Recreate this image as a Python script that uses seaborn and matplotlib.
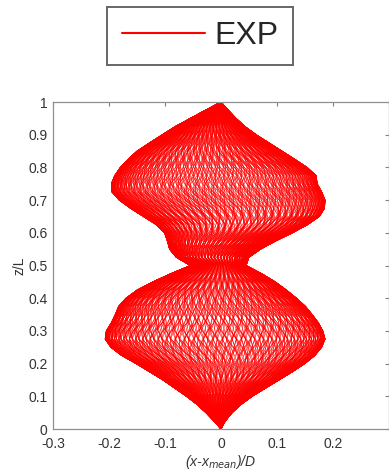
import numpy as np
import pandas as pd
import matplotlib
matplotlib.use("Agg")
import matplotlib.pyplot as plt
from matplotlib.lines import Line2D
import seaborn as sns

# ---- data ----
z_levels = [0.000, 0.025, 0.050, 0.075, 0.100, 0.125, 0.150, 0.175, 0.200, 0.225,
            0.250, 0.275, 0.300, 0.325, 0.350, 0.375, 0.400, 0.425, 0.450, 0.475,
            0.500, 0.525, 0.550, 0.575, 0.600, 0.625, 0.650, 0.675, 0.700, 0.725,
            0.750, 0.775, 0.800, 0.825, 0.850, 0.875, 0.900, 0.925, 0.950, 0.975, 1.000]
# left (minimum) envelope of (x-x_mean)/D
left_edge = [0.000, -0.013, -0.027, -0.043, -0.062, -0.083, -0.104, -0.128, -0.152, -0.178,
             -0.197, -0.207, -0.205, -0.196, -0.189, -0.183, -0.170, -0.150, -0.122, -0.090,
             -0.055, -0.080, -0.092, -0.096, -0.101, -0.116, -0.139, -0.162, -0.182, -0.195,
             -0.196, -0.190, -0.180, -0.166, -0.150, -0.128, -0.105, -0.082, -0.055, -0.028, 0.000]
# right (maximum) envelope of (x-x_mean)/D
right_edge = [0.000, 0.008, 0.020, 0.036, 0.056, 0.080, 0.104, 0.128, 0.150, 0.168,
              0.180, 0.186, 0.182, 0.174, 0.163, 0.151, 0.135, 0.117, 0.097, 0.073,
              0.045, 0.050, 0.071, 0.098, 0.128, 0.155, 0.176, 0.185, 0.186, 0.180,
              0.172, 0.170, 0.154, 0.132, 0.109, 0.086, 0.063, 0.043, 0.027, 0.013, 0.000]
# snapshot phases (deg) and travelling-wave tilts (cycles per unit z)
snap_phase = [0, 5, 10, 15, 20, 25, 30, 35, 40, 45, 50, 55, 60, 65, 70, 75, 80, 85,
              90, 95, 100, 105, 110, 115, 120, 125, 130, 135, 140, 145, 150, 155, 160, 165, 170, 175,
              180, 185, 190, 195, 200, 205, 210, 215, 220, 225, 230, 235, 240, 245, 250, 255, 260, 265,
              270, 275, 280, 285, 290, 295, 300, 305, 310, 315, 320, 325, 330, 335, 340, 345, 350, 355]
snap_tilt = [0.09, -0.21, 0.31, -0.12, 0.19, -0.33]
snap_offset = [0.0, 1.7, 3.1, 0.9, 2.4, 4.2]

x_ticks = [-0.3, -0.2, -0.1, 0.0, 0.1, 0.2, 0.3]
x_tick_labels = ["-0.3", "-0.2", "-0.1", "0", "0.1", "0.2", ""]
y_ticks = [0, 0.1, 0.2, 0.3, 0.4, 0.5, 0.6, 0.7, 0.8, 0.9, 1.0]
y_tick_labels = ["0", "0.1", "0.2", "0.3", "0.4", "0.5", "0.6", "0.7", "0.8", "0.9", "1"]

# ---- build long table ----
z = np.array(z_levels)
lo = np.array(left_edge)
hi = np.array(right_edge)
mid = (lo + hi) / 2
half = (hi - lo) / 2
frames = []
k = 0
for t, off in zip(snap_tilt, snap_offset):
    for p in snap_phase:
        u = np.sin(np.deg2rad(p + off) + 2 * np.pi * t * z)
        frames.append(pd.DataFrame({"x": mid + half * u, "z": z, "snap": k}))
        k += 1
df = pd.concat(frames, ignore_index=True)

sns.set_theme(style="white")
plt.rcParams["font.family"] = ["Liberation Sans", "DejaVu Sans"]
plt.rcParams["mathtext.default"] = "it"

fig = plt.figure(figsize=(3.89, 4.73), dpi=100)
ax = fig.add_axes([53 / 389, 44 / 473, 336 / 389, 327 / 473])

sns.lineplot(data=df, x="x", y="z", units="snap", estimator=None, sort=False,
             color="#ff0000", lw=0.4, legend=False, ax=ax)

ax.set_xlim(-0.3, 0.3)
ax.set_ylim(0, 1)
ax.set_xticks(x_ticks)
ax.set_xticklabels(x_tick_labels)
ax.set_yticks(y_ticks)
ax.set_yticklabels(y_tick_labels)
ax.tick_params(direction="in", length=3, width=0.8, top=True, right=True,
               colors="#808080", labelcolor="#333333", labelsize=10)
ax.tick_params(axis="x", pad=6)
ax.tick_params(axis="y", pad=4)
for s in ax.spines.values():
    s.set_color("#909090")
    s.set_linewidth(0.9)

ax.set_xlabel("(x-x$_{mean}$)/D", fontsize=10, style="italic", color="#333333", labelpad=1)
ax.set_ylabel("z/L", fontsize=10, color="#333333", labelpad=1)

h = Line2D([0], [0], color="#ff0000", lw=1.5)
leg = fig.legend(handles=[h], labels=["EXP"], loc="center",
                 bbox_to_anchor=(200 / 389, 1 - 36 / 473), fontsize=23,
                 frameon=True, fancybox=False, edgecolor="#333333",
                 handlelength=2.6, handletextpad=0.3, borderpad=0.45)
leg.get_frame().set_linewidth(1.3)
leg.get_frame().set_boxstyle("square", pad=0)

fig.savefig("out.png", dpi=100)
